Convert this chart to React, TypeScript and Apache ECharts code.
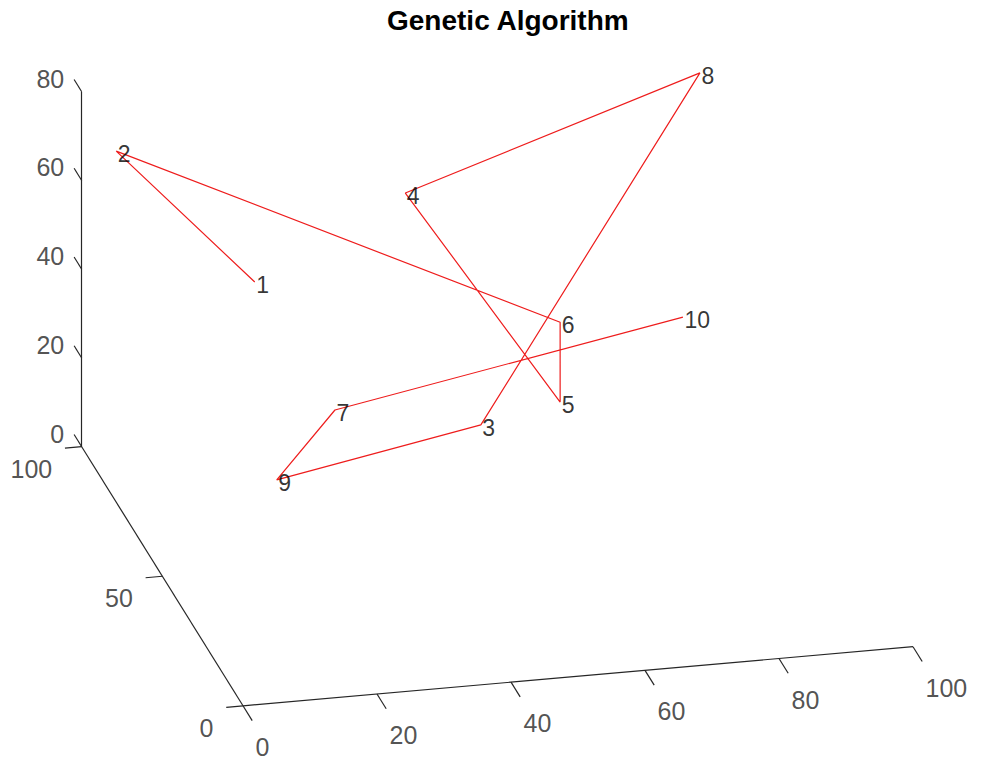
import React, { useEffect, useRef } from "react";
import * as echarts from "echarts";

// ---- data (3-D city coordinates, tour order, tick values) ----
const cityNames = ["1", "2", "3", "4", "5", "6", "7", "8", "9", "10"];
const cityX = [21.4, 2.0, 53.7, 43.9, 63.8, 63.8, 33.2, 90.3, 23.5, 82.8];
const cityY = [81.6, 86.9, 75.6, 81.7, 68.4, 68.4, 80.9, 91.8, 76.7, 71.2];
const cityZ = [45, 74, 12, 62, 20, 38, 15, 77, 3, 35];
const bestRoute = [1, 2, 6, 5, 4, 8, 3, 9, 7, 10];
const xTicks = [0, 20, 40, 60, 80, 100];
const yTicks = [0, 50, 100];
const zTicks = [0, 20, 40, 60, 80];
const xLimit = [0, 100];
const yLimit = [0, 100];
const zLimit = [0, 80];

// ---- view (orthographic projection of data units onto the canvas plane) ----
const W = 997;
const H = 761;
const ORIGIN = [243, 705.8];
const EX = [6.7, -0.591];
const EY = [-1.613, -2.591];
const EZ = [0, -4.4375];

function project(x: number, y: number, z: number): [number, number] {
  return [
    ORIGIN[0] + x * EX[0] + y * EY[0] + z * EZ[0],
    ORIGIN[1] + x * EX[1] + y * EY[1] + z * EZ[1],
  ];
}

const AXIS_COLOR = "#262626";
const FONT = "'Liberation Sans', Arial, Helvetica, sans-serif";

export default function App() {
  const ref = useRef<HTMLDivElement>(null);
  useEffect(() => {
    if (!ref.current) return;
    const chart = echarts.init(ref.current, undefined, { renderer: "svg" });

    const x0 = xLimit[0], x1 = xLimit[1];
    const y0 = yLimit[0], y1 = yLimit[1];
    const z0 = zLimit[0], z1 = zLimit[1];

    const axisSegments: any[] = [
      { coords: [project(x0, y0, z0), project(x1, y0, z0)] },
      { coords: [project(x0, y0, z0), project(x0, y1, z0)] },
      { coords: [project(x0, y1, z0), project(x0, y1, z1)] },
    ];
    const xTickLen = 5.7; // in y units
    const yTickLen = 2.5; // in x units
    const zTickLen = 4.7; // in y units
    xTicks.forEach((t) =>
      axisSegments.push({ coords: [project(t, y0, z0), project(t, y0 - xTickLen, z0)] })
    );
    yTicks.forEach((t) =>
      axisSegments.push({ coords: [project(x0, t, z0), project(x0 - yTickLen, t, z0)] })
    );
    zTicks.forEach((t) =>
      axisSegments.push({ coords: [project(x0, y1, t), project(x0, y1 + zTickLen, t)] })
    );

    const routeData = bestRoute.map((c) => {
      const i = c - 1;
      return project(cityX[i], cityY[i], cityZ[i]);
    });
    const cityData = cityNames.map((n, i) => ({
      value: project(cityX[i], cityY[i], cityZ[i]),
      name: n,
    }));
    const xLabelData = xTicks.map((t) => ({ value: project(t, y0, z0), name: String(t) }));
    const yLabelData = yTicks.map((t) => ({ value: project(x0, t, z0), name: String(t) }));
    const zLabelData = zTicks.map((t) => ({ value: project(x0, y1, t), name: String(t) }));

    const labelScatter = (data: any[], label: any) => ({
      type: "scatter",
      data,
      symbol: "circle",
      symbolSize: 1,
      itemStyle: { color: "rgba(0,0,0,0)" },
      silent: true,
      z: 5,
      label: {
        show: true,
        formatter: (p: any) => p.name,
        fontFamily: FONT,
        ...label,
      },
    });

    chart.setOption({
      animation: false,
      backgroundColor: "#ffffff",
      title: {
        text: "Genetic Algorithm",
        left: 382,
        top: 1,
        textStyle: { fontFamily: FONT, fontSize: 28, fontWeight: "bold", color: "#000000" },
      },
      grid: { left: 0, right: 0, top: 0, bottom: 0 },
      xAxis: { type: "value", min: 0, max: W, show: false },
      yAxis: { type: "value", min: 0, max: H, inverse: true, show: false },
      series: [
        {
          type: "lines",
          coordinateSystem: "cartesian2d",
          data: axisSegments,
          silent: true,
          lineStyle: { color: AXIS_COLOR, width: 1.2, opacity: 1 },
          z: 1,
        },
        {
          type: "line",
          data: routeData,
          symbol: "none",
          silent: true,
          lineStyle: { color: "#ee1c1c", width: 1.2 },
          z: 2,
        },
        labelScatter(cityData, {
          position: "right",
          distance: 0,
          offset: [1, 3],
          fontSize: 23,
          color: "#000000",
        }),
        labelScatter(xLabelData, {
          position: "right",
          distance: 0,
          offset: [12, 41],
          fontSize: 25,
          color: AXIS_COLOR,
        }),
        labelScatter(yLabelData, {
          position: "left",
          distance: 0,
          offset: [-29, 22],
          fontSize: 25,
          color: AXIS_COLOR,
        }),
        labelScatter(zLabelData, {
          position: "left",
          distance: 0,
          offset: [-17, -13],
          fontSize: 25,
          color: AXIS_COLOR,
        }),
      ],
    });
    return () => chart.dispose();
  }, []);

  return (
    <div
      ref={ref}
      style={{ position: "absolute", left: 0, top: 0, width: W, height: H, background: "#fff" }}
    />
  );
}
